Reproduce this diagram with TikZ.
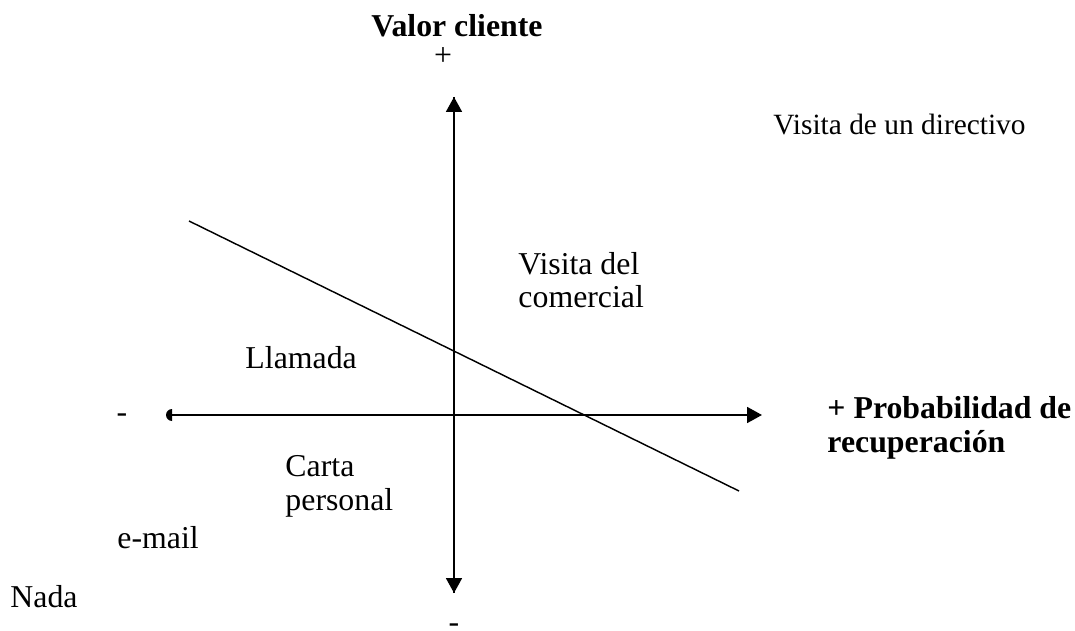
\documentclass[tikz,border=0pt]{standalone}
\usepackage{fontspec}
\setmainfont{Liberation Serif}
\usetikzlibrary{arrows.meta}

\begin{document}
\begin{tikzpicture}[x=0.415pt, y=-0.415pt,
        label/.style={inner sep=0pt, anchor=base west, align=left, font=\fontsize{13.2}{14.1}\selectfont},
        title/.style={label, font=\fontsize{13.2}{14.1}\selectfont\bfseries},
        sign/.style={inner sep=0pt, font=\fontsize{13.2}{14.1}\selectfont},
        axis/.style={line width=0.85pt},
        cut/.style={line width=0.6pt}]
            \useasboundingbox (0,0) rectangle (1075,631);

            % axes
            \coordinate (top) at (454,97);
            \coordinate (bottom) at (454,593);
            \coordinate (left) at (168,415);
            \coordinate (right) at (762,415);
            \draw[axis, -{Triangle[width=6.6pt,length=6.2pt]}] (bottom) -- (top);
            \draw[axis, -{Triangle[width=6.6pt,length=6.2pt]}] (top) -- (bottom);
            \draw[axis, -{Triangle[width=6.6pt,length=6.2pt]}] (left) -- (right);
            \fill (172,421) arc[start angle=90, end angle=270, radius=6] -- cycle;

            % separating line
            \coordinate (c1) at (189,221);
            \coordinate (c2) at (739,491);
            \draw[cut] (c1) -- (c2);

            % axis titles and signs
            \node[title, anchor=base] (valor) at (457,37) {Valor cliente};
            \node[sign] (plus) at (443,57) {+};
            \node[sign] (minusb) at (454,628) {-};
            \node[sign] (minusl) at (122,418) {-};
            \node[title] (prob) at (827,452) {+ Probabilidad de\\recuperación};

            % actions
            \node[label, font=\fontsize{12.2}{14.1}\selectfont] (directivo) at (773,135) {Visita de un directivo};
            \node[label] (comercial) at (518,308) {Visita del\\comercial};
            \node[label] (llamada) at (245,369) {Llamada};
            \node[label] (carta) at (285,510) {Carta\\personal};
            \node[label] (email) at (117,548) {e-mail};
            \node[label] (nada) at (10,607) {Nada};
\end{tikzpicture}
\end{document}
